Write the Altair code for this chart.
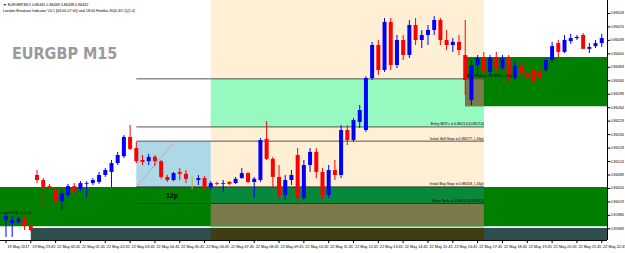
import altair as alt
import pandas as pd

# ---------------- data ----------------
bars = list(range(97))
opens = [0.85972,0.85964,0.85967,0.85972,0.85956,0.86089,0.86076,0.86060,0.86050,0.86021,
         0.86037,0.86060,0.86053,0.86066,0.86068,0.86071,0.86089,0.86097,0.86120,0.86138,
         0.86188,0.86159,0.86128,0.86125,0.86136,0.86125,0.86084,0.86076,0.86097,0.86092,
         0.86081,0.86076,0.86081,0.86058,0.86068,0.86066,0.86071,0.86068,0.86081,0.86094,
         0.86071,0.86076,0.86183,0.86131,0.86084,0.86037,0.86076,0.86141,0.86029,0.86115,
         0.86149,0.86097,0.86037,0.86102,0.86089,0.86206,0.86180,0.86227,0.86206,0.86341,
         0.86427,0.86362,0.86487,0.86375,0.86440,0.86401,0.86479,0.86440,0.86453,0.86466,
         0.86492,0.86440,0.86427,0.86435,0.86401,0.86284,0.86375,0.86393,0.86357,0.86393,
         0.86367,0.86393,0.86341,0.86372,0.86352,0.86362,0.86357,0.86362,0.86388,0.86432,
         0.86409,0.86437,0.86445,0.86453,0.86417,0.86424,0.86432]
highs = [0.85990,0.85982,0.85980,0.85982,0.85959,0.86102,0.86081,0.86066,0.86058,0.86050,
         0.86066,0.86068,0.86073,0.86073,0.86081,0.86097,0.86107,0.86128,0.86149,0.86193,
         0.86219,0.86175,0.86141,0.86144,0.86141,0.86128,0.86089,0.86097,0.86107,0.86102,
         0.86086,0.86089,0.86086,0.86073,0.86071,0.86076,0.86073,0.86084,0.86107,0.86097,
         0.86084,0.86185,0.86229,0.86136,0.86115,0.86089,0.86102,0.86159,0.86128,0.86159,
         0.86159,0.86107,0.86115,0.86128,0.86219,0.86219,0.86237,0.86271,0.86346,0.86435,
         0.86440,0.86497,0.86497,0.86453,0.86453,0.86492,0.86497,0.86466,0.86479,0.86502,
         0.86497,0.86466,0.86445,0.86453,0.86492,0.86388,0.86401,0.86409,0.86401,0.86409,
         0.86401,0.86401,0.86383,0.86383,0.86372,0.86372,0.86367,0.86393,0.86435,0.86440,
         0.86453,0.86456,0.86453,0.86458,0.86432,0.86440,0.86456]
lows = [0.85928,0.85928,0.85962,0.85946,0.85943,0.86068,0.86011,0.86050,0.85998,0.85998,
        0.86032,0.86042,0.86047,0.86032,0.86063,0.86066,0.86084,0.86058,0.86115,0.86133,
        0.86154,0.86120,0.86115,0.86115,0.86112,0.86079,0.86071,0.86073,0.86076,0.86068,
        0.86053,0.86063,0.86053,0.86050,0.86063,0.86045,0.86063,0.86066,0.86079,0.86068,
        0.86029,0.86071,0.86128,0.86058,0.86024,0.86024,0.86063,0.86011,0.86024,0.86097,
        0.86081,0.86024,0.86029,0.86076,0.86081,0.86167,0.86175,0.86211,0.86201,0.86336,
        0.86349,0.86357,0.86362,0.86367,0.86388,0.86393,0.86427,0.86419,0.86427,0.86453,
        0.86427,0.86414,0.86409,0.86401,0.86297,0.86271,0.86349,0.86341,0.86349,0.86357,
        0.86362,0.86331,0.86336,0.86341,0.86331,0.86320,0.86331,0.86357,0.86383,0.86393,
        0.86406,0.86430,0.86440,0.86417,0.86406,0.86419,0.86422]
closes = [0.85982,0.85972,0.85975,0.85959,0.85946,0.86076,0.86058,0.86055,0.86019,0.86042,
          0.86060,0.86047,0.86068,0.86068,0.86076,0.86089,0.86102,0.86120,0.86141,0.86188,
          0.86157,0.86125,0.86123,0.86136,0.86125,0.86084,0.86076,0.86094,0.86092,0.86079,
          0.86081,0.86081,0.86055,0.86068,0.86066,0.86068,0.86066,0.86079,0.86094,0.86071,
          0.86079,0.86180,0.86131,0.86084,0.86037,0.86076,0.86089,0.86029,0.86115,0.86149,
          0.86097,0.86037,0.86102,0.86089,0.86206,0.86180,0.86232,0.86258,0.86341,0.86427,
          0.86362,0.86487,0.86375,0.86440,0.86401,0.86479,0.86440,0.86453,0.86466,0.86492,
          0.86440,0.86427,0.86435,0.86414,0.86336,0.86375,0.86393,0.86357,0.86393,0.86367,
          0.86393,0.86341,0.86372,0.86352,0.86341,0.86331,0.86341,0.86388,0.86424,0.86409,
          0.86440,0.86445,0.86448,0.86417,0.86422,0.86432,0.86445]

time_tick_bars = list(range(0, 97, 4))
time_labels = ["19 May 2017", "19 May 23:45", "22 May 00:45", "22 May 01:45", "22 May 02:45",
               "22 May 03:45", "22 May 04:45", "22 May 05:45", "22 May 06:45", "22 May 07:45",
               "22 May 08:45", "22 May 09:45", "22 May 10:45", "22 May 11:45", "22 May 12:45",
               "22 May 13:45", "22 May 14:45", "22 May 15:45", "22 May 16:45", "22 May 17:45",
               "22 May 18:45", "22 May 19:45", "22 May 20:45", "22 May 21:45", "22 May 22:45"]
price_ticks = [0.86509, 0.86474, 0.86439, 0.86404, 0.86369, 0.86334, 0.86299, 0.86264,
               0.86229, 0.86194, 0.86159, 0.86124, 0.86089, 0.86054, 0.86019, 0.85984, 0.85949]

# levels of the London breakout indicator
buy_target = 0.86339
entry_buy = 0.86214
sell_stop = 0.86177
buy_stop = 0.86058
entry_sell = 0.86015
box_start, box_end, session_end = 21, 33, 77

zone_names = ["cream", "mint_top", "mint_bot", "green_band", "green_cream", "olive_bot",
              "slate", "dark_olive", "green_right", "olive_top", "box"]
zone_x1 = [33, 33, 33, -2, 33, 33, 4, 33, 74, 74, 21]
zone_x2 = [77, 77, 77, 99, 77, 77, 99, 77, 99, 77, 33]
zone_y1 = [0.86600, 0.86339, 0.86015, 0.86058, 0.86058, 0.86015, 0.85951, 0.85951, 0.86396, 0.86339, 0.86177]
zone_y2 = [0.85900, 0.86214, 0.85900, 0.85956, 0.86015, 0.85956, 0.85900, 0.85900, 0.86268, 0.86268, 0.86058]
zone_colors = ["#FFEFD5", "#96F9BF", "#96F9BF", "#008000", "#07883A", "#7A7A4A",
               "#2F4F4F", "#3E3E12", "#008000", "#7A7A4A", "#ADD8E6"]

line_prices = [buy_target, entry_buy, sell_stop, buy_stop, entry_sell]
line_colors = ["#555555", "#555555", "#555555", "#333333", "#333333"]
label_texts = ["", "Entry BUYs = 0.86214 [0.86214]", "Initial Sell Stop = 0.86177, (-16p)",
               "Initial Buy Stop = 0.86058, (-16p)", "Entry Sells = 0.86015 [0.86015]"]

# ---------------- chart ----------------
df = pd.DataFrame({"bar": bars, "open": opens, "high": highs, "low": lows, "close": closes})
df["kind"] = ["up" if c > o else ("down" if c < o else "doji") for o, c in zip(opens, closes)]

W, H = 607, 240
xs = alt.Scale(domain=[-0.158, 96.04], nice=False, zero=False)
ys = alt.Scale(domain=[0.85920, 0.86544], nice=False, zero=False)
ccol = alt.Color("kind:N", scale=alt.Scale(domain=["up", "down", "doji"],
                                            range=["#0000FF", "#FF0000", "#B4B43C"]), legend=None)
FONT = "Liberation Sans"

zones = pd.DataFrame({"name": zone_names, "x1": zone_x1, "x2": zone_x2,
                      "y1": zone_y1, "y2": zone_y2, "c": zone_colors})
zone_layer = alt.Chart(zones).mark_rect(clip=True).encode(
    x=alt.X("x1:Q", scale=xs, axis=None), x2="x2:Q",
    y=alt.Y("y1:Q", scale=ys, axis=None), y2="y2:Q",
    color=alt.Color("c:N", scale=None))

lines = pd.DataFrame({"p": line_prices, "c": line_colors, "t": label_texts,
                      "x1": [box_start] * 5, "x2": [session_end] * 5})
line_layer = alt.Chart(lines).mark_rule(strokeWidth=1).encode(
    x=alt.X("x1:Q", scale=xs, axis=None), x2="x2:Q", y=alt.Y("p:Q", scale=ys, axis=None),
    color=alt.Color("c:N", scale=None))
label_layer = alt.Chart(lines).mark_text(align="right", baseline="bottom", dy=-0.5,
                                         fontSize=3.7, font=FONT, color="#000000").encode(
    x=alt.X("x2:Q", scale=xs, axis=None), y=alt.Y("p:Q", scale=ys, axis=None), text="t:N")

diag = pd.DataFrame({"bar": [box_start, 27.2], "p": [buy_stop, sell_stop]})
diag_layer = alt.Chart(diag).mark_line(color="#E06060", strokeDash=[1, 1.5], strokeWidth=1).encode(
    x=alt.X("bar:Q", scale=xs, axis=None), y=alt.Y("p:Q", scale=ys, axis=None))

wick = alt.Chart(df).mark_rule(strokeWidth=1, clip=True).encode(
    x=alt.X("bar:Q", scale=xs, axis=None), y=alt.Y("low:Q", scale=ys, axis=None), y2="high:Q", color=ccol)
body = alt.Chart(df).mark_bar(size=4, clip=True).encode(
    x=alt.X("bar:Q", scale=xs, axis=None), y=alt.Y("open:Q", scale=ys, axis=None), y2="close:Q", color=ccol)

# hand-drawn MT4-style axes
frame = alt.Chart(pd.DataFrame({"k": [0]})).mark_rule(color="#000000", strokeWidth=1)
x_domain = frame.encode(x=alt.value(0), x2=alt.value(W), y=alt.value(H + 0.5))
y_domain = frame.encode(x=alt.value(W + 0.5), y=alt.value(0), y2=alt.value(H))

xt = pd.DataFrame({"bar": time_tick_bars, "t": time_labels})
x_ticks = alt.Chart(xt).mark_rule(color="#000000").encode(
    x=alt.X("bar:Q", scale=xs, axis=None), y=alt.value(H), y2=alt.value(H + 3))
x_labels = alt.Chart(xt).mark_text(align="left", baseline="middle", dx=1.5, fontSize=3.8,
                                   font=FONT, color="#000000").encode(
    x=alt.X("bar:Q", scale=xs, axis=None), y=alt.value(H + 7), text="t:N")

yt = pd.DataFrame({"p": price_ticks})
y_ticks = alt.Chart(yt).mark_rule(color="#000000").encode(
    y=alt.Y("p:Q", scale=ys, axis=None), x=alt.value(W), x2=alt.value(W + 3))
y_labels = alt.Chart(yt).mark_text(align="left", baseline="middle", fontSize=3.7,
                                   font=FONT, color="#000000").encode(
    y=alt.Y("p:Q", scale=ys, axis=None), x=alt.value(W + 3.5), text=alt.Text("p:Q", format=".5f"))

texts = pd.DataFrame({
    "t": ["EURGBP M15", "12p", "\u25BC EURGBP,M15  0.86445 0.86449 0.86438 0.86442",
          "London Breakout Indicator V4.1 [04:00-07:00] and 18:00 Hindfas 80(0.3/1.5)(1.0)",
          "Buy Profit = 0.86339 [+12p]", "s = 0.85942 [+12p]"],
    "x": [12, 172, 3, 3, 512, 0], "y": [54, 196, 5, 11, 76, 213],
    "s": [16, 7, 3.7, 3.7, 3.7, 3.7], "w": ["bold", "bold", "normal", "normal", "normal", "normal"],
    "a": ["left", "center", "left", "left", "right", "left"],
    "c": ["#9A9A9A", "#000000", "#000000", "#000000", "#000000", "#000000"]})
text_layers = []
for _, r in texts.iterrows():
    text_layers.append(alt.Chart(texts[texts.t == r.t]).mark_text(
        align=r.a, baseline="middle", fontSize=float(r.s), fontWeight=r.w,
        font="DejaVu Sans Condensed" if r.t == "EURGBP M15" else FONT,
        color=r.c).encode(x=alt.value(float(r.x)), y=alt.value(float(r.y)), text="t:N"))

chart = alt.layer(zone_layer, line_layer, diag_layer, label_layer, wick, body,
                  x_domain, y_domain, x_ticks, x_labels, y_ticks, y_labels,
                  *text_layers).properties(
    width=W, height=H, padding={"left": 0, "top": 0, "right": 18, "bottom": 13}, autosize="none",
    background="#FFFFFF"
).configure_view(stroke=None)

chart.save("out.html", embed_options={"renderer": "svg", "actions": False})
